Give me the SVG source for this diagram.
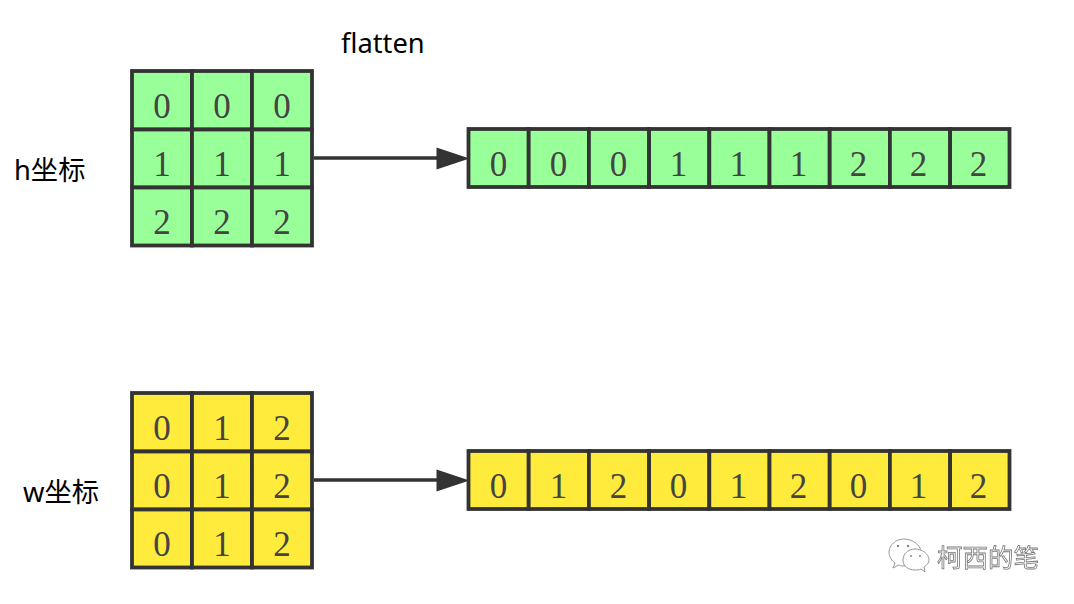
<svg xmlns="http://www.w3.org/2000/svg" width="1074" height="604" viewBox="0 0 1074 604">
<defs><filter id="soft" x="-5%" y="-5%" width="110%" height="110%"><feGaussianBlur stdDeviation=".3"/></filter></defs>
<style>
.cell{stroke:#333;stroke-width:3.8}
.g{fill:#9f9}
.y{fill:#ffeb3b}
.d{font-family:"Liberation Serif",serif;font-size:35px;fill:#444;text-anchor:middle}
.l{font-family:"Noto Sans","Noto Sans CJK SC",sans-serif;font-size:27.300px;fill:#000}
.link{stroke:#333;stroke-width:3.6;fill:none}
.head{fill:#333;stroke:none}
.wm{font-family:"Noto Sans CJK SC",sans-serif;font-size:25.500px;fill:#fff;stroke:#777;stroke-width:.8}
.ic{fill:#fff;stroke:#999;stroke-width:1}
.ey{fill:#888}
</style>
<rect width="1074" height="604" fill="#fff"/>
<g id="h-grid">
<rect class="cell g" x="132" y="71" width="60" height="58.500"/><rect class="cell g" x="192" y="71" width="60" height="58.500"/><rect class="cell g" x="252" y="71" width="60" height="58.500"/>
<rect class="cell g" x="132" y="129.500" width="60" height="58"/><rect class="cell g" x="192" y="129.500" width="60" height="58"/><rect class="cell g" x="252" y="129.500" width="60" height="58"/>
<rect class="cell g" x="132" y="187.500" width="60" height="58"/><rect class="cell g" x="192" y="187.500" width="60" height="58"/><rect class="cell g" x="252" y="187.500" width="60" height="58"/>
<text class="d" x="162" y="118">0</text><text class="d" x="222" y="118">0</text><text class="d" x="282" y="118">0</text>
<text class="d" x="162" y="176">1</text><text class="d" x="222" y="176">1</text><text class="d" x="282" y="176">1</text>
<text class="d" x="162" y="234">2</text><text class="d" x="222" y="234">2</text><text class="d" x="282" y="234">2</text>
</g>
<g id="h-row">
<rect class="cell g" x="468.500" y="129" width="60.200" height="58"/><rect class="cell g" x="528.700" y="129" width="60.200" height="58"/><rect class="cell g" x="588.900" y="129" width="60.200" height="58"/><rect class="cell g" x="649.100" y="129" width="60.200" height="58"/><rect class="cell g" x="709.300" y="129" width="60.200" height="58"/><rect class="cell g" x="769.500" y="129" width="60.200" height="58"/><rect class="cell g" x="829.700" y="129" width="60.200" height="58"/><rect class="cell g" x="889.900" y="129" width="60.200" height="58"/><rect class="cell g" x="950.100" y="129" width="59.400" height="58"/>
<text class="d" x="498.500" y="176">0</text><text class="d" x="558.500" y="176">0</text><text class="d" x="618.500" y="176">0</text><text class="d" x="678.500" y="176">1</text><text class="d" x="738.500" y="176">1</text><text class="d" x="798.500" y="176">1</text><text class="d" x="858.500" y="176">2</text><text class="d" x="918.500" y="176">2</text><text class="d" x="978.500" y="176">2</text>
</g>
<g id="w-grid">
<rect class="cell y" x="132" y="393" width="60" height="58.500"/><rect class="cell y" x="192" y="393" width="60" height="58.500"/><rect class="cell y" x="252" y="393" width="60" height="58.500"/>
<rect class="cell y" x="132" y="451.500" width="60" height="58"/><rect class="cell y" x="192" y="451.500" width="60" height="58"/><rect class="cell y" x="252" y="451.500" width="60" height="58"/>
<rect class="cell y" x="132" y="509.500" width="60" height="58"/><rect class="cell y" x="192" y="509.500" width="60" height="58"/><rect class="cell y" x="252" y="509.500" width="60" height="58"/>
<text class="d" x="162" y="440">0</text><text class="d" x="222" y="440">1</text><text class="d" x="282" y="440">2</text>
<text class="d" x="162" y="498">0</text><text class="d" x="222" y="498">1</text><text class="d" x="282" y="498">2</text>
<text class="d" x="162" y="556">0</text><text class="d" x="222" y="556">1</text><text class="d" x="282" y="556">2</text>
</g>
<g id="w-row">
<rect class="cell y" x="468.500" y="451" width="60.200" height="58"/><rect class="cell y" x="528.700" y="451" width="60.200" height="58"/><rect class="cell y" x="588.900" y="451" width="60.200" height="58"/><rect class="cell y" x="649.100" y="451" width="60.200" height="58"/><rect class="cell y" x="709.300" y="451" width="60.200" height="58"/><rect class="cell y" x="769.500" y="451" width="60.200" height="58"/><rect class="cell y" x="829.700" y="451" width="60.200" height="58"/><rect class="cell y" x="889.900" y="451" width="60.200" height="58"/><rect class="cell y" x="950.100" y="451" width="59.400" height="58"/>
<text class="d" x="498.500" y="498">0</text><text class="d" x="558.500" y="498">1</text><text class="d" x="618.500" y="498">2</text><text class="d" x="678.500" y="498">0</text><text class="d" x="738.500" y="498">1</text><text class="d" x="798.500" y="498">2</text><text class="d" x="858.500" y="498">0</text><text class="d" x="918.500" y="498">1</text><text class="d" x="978.500" y="498">2</text>
</g>
<g id="connectors">
<path class="link" d="M314 158H440"/><path class="head" d="M436.500 147.500L469.500 158.500L436.500 169.500Z"/>
<path class="link" d="M314 480H440"/><path class="head" d="M436.500 469.500L469.500 480.500L436.500 491.500Z"/>
</g>
<g id="labels">
<text class="l" x="341" y="53">flatten</text>
<text class="l" x="14" y="180">h坐标</text>
<text class="l" x="23" y="502">w坐标</text>
</g>
<g id="watermark" filter="url(#soft)">
<path class="ic" d="M904 539C896 539 889 545 889 552C889 557 892 561 895 563L893 568L899 565C901 566 903 566 904 566C912 566 921 560 921 552C921 545 912 539 904 539Z"/>
<path class="ic" d="M915 549C908 549 903 554 903 560C903 566 908 570 915 570C917 570 919 570 921 569L925 572L924 567C927 565 929 563 929 560C929 554 922 549 915 549Z"/>
<circle class="ey" cx="898" cy="546" r="1.200"/><circle class="ey" cx="908" cy="546" r="1.200"/><circle class="ey" cx="911" cy="556" r="1"/><circle class="ey" cx="920" cy="556" r="1"/>
<text class="wm" x="937" y="567">柯西的笔</text>
</g>
</svg>
